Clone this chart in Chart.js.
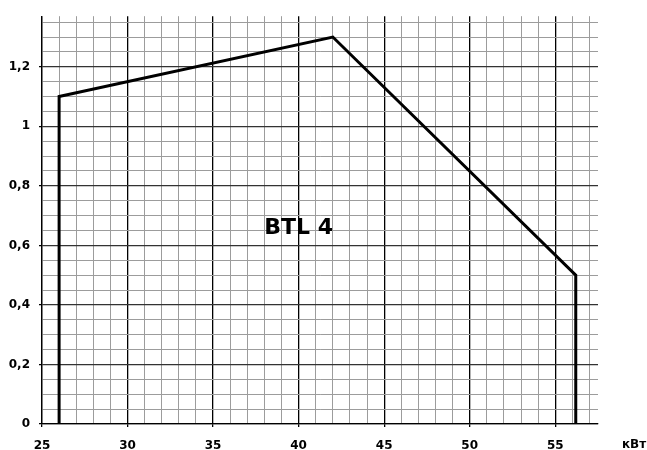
<!DOCTYPE html>
<html>
<head>
<meta charset="utf-8">
<script src="https://cdn.jsdelivr.net/npm/chart.js@4.4.1/dist/chart.umd.min.js"></script>
<style>
  body { margin: 0; background: #fff; }
  #wrap { width: 647px; height: 450px; }
</style>
</head>
<body>
<div id="wrap"><canvas id="chart"></canvas></div>
<script>
// working range outline, power (kW) vs. pressure
const powerKw = [26, 26, 42, 56.2, 56.2];
const pressure = [0, 1.1, 1.3, 0.5, 0];

const xTickValues = [25, 30, 35, 40, 45, 50, 55];
const xTickLabels = ['25', '30', '35', '40', '45', '50', '55'];
const yTickValues = [0, 0.2, 0.4, 0.6, 0.8, 1, 1.2];
const yTickLabels = ['0', '0,2', '0,4', '0,6', '0,8', '1', '1,2'];

const modelName = 'BTL 4';
const modelPos = { x: 40, y: 0.656 };
const unitLabel = 'кВт';

const FONT = '"DejaVu Sans", sans-serif';

const labelsPlugin = {
  id: 'labels',
  afterDraw(chart) {
    const { ctx, scales, chartArea } = chart;
    ctx.save();
    ctx.fillStyle = '#000';
    ctx.textAlign = 'center';
    ctx.textBaseline = 'middle';
    ctx.font = 'bold 22px ' + FONT;
    ctx.fillText(modelName, scales.x.getPixelForValue(modelPos.x), scales.y.getPixelForValue(modelPos.y));
    ctx.font = 'bold 12px ' + FONT;
    ctx.fillText(unitLabel, chartArea.right + 36, 445);
    ctx.restore();
  }
};

const isMajorX = v => Math.abs(v % 5) < 1e-6;
const isMajorY = v => Math.round(v * 20) % 4 === 0;

new Chart(document.getElementById('chart'), {
  type: 'scatter',
  data: {
    datasets: [{
      data: powerKw.map((x, i) => ({ x: x, y: pressure[i] })),
      showLine: true,
      borderColor: '#000',
      borderWidth: 3,
      pointRadius: 0,
      tension: 0
    }]
  },
  options: {
    responsive: true,
    maintainAspectRatio: false,
    animation: false,
    layout: { padding: { left: 0, right: 49, top: 12, bottom: 0 } },
    plugins: { legend: { display: false }, tooltip: { enabled: false } },
    scales: {
      x: {
        type: 'linear',
        min: 25,
        max: 57.5,
        afterBuildTicks(scale) {
          const t = [];
          for (let v = 25; v <= 57; v++) t.push({ value: v });
          scale.ticks = t;
        },
        afterFit(scale) { scale.height = 26; },
        ticks: {
          autoSkip: false,
          maxRotation: 0,
          padding: 12,
          color: '#000',
          font: { family: FONT, size: 12, weight: 'bold' },
          callback(v) {
            const i = xTickValues.indexOf(v);
            return i >= 0 ? xTickLabels[i] : '';
          }
        },
        grid: {
          color: c => isMajorX(c.tick.value) ? '#000' : '#9c9c9c',
          lineWidth: c => isMajorX(c.tick.value) ? 1.3 : 1,
          tickColor: c => isMajorX(c.tick.value) ? '#000' : 'rgba(0,0,0,0)',
          tickLength: 3
        },
        border: { color: '#000', width: 1.3 }
      },
      y: {
        min: 0,
        max: 1.37,
        afterBuildTicks(scale) {
          const t = [];
          for (let k = 0; k <= 27; k++) t.push({ value: k / 20 });
          scale.ticks = t;
        },
        afterFit(scale) { scale.width = 42; },
        ticks: {
          autoSkip: false,
          padding: 9,
          color: '#000',
          font: { family: FONT, size: 12, weight: 'bold' },
          callback(v) {
            if (!isMajorY(v)) return '';
            const i = yTickValues.findIndex(t => Math.abs(t - v) < 1e-6);
            return i >= 0 ? yTickLabels[i] : '';
          }
        },
        grid: {
          color: c => isMajorY(c.tick.value) ? '#333' : '#9c9c9c',
          lineWidth: c => isMajorY(c.tick.value) ? 1.3 : 1,
          tickColor: c => isMajorY(c.tick.value) ? '#000' : 'rgba(0,0,0,0)',
          tickLength: 3
        },
        border: { color: '#000', width: 1.3 }
      }
    }
  },
  plugins: [labelsPlugin]
});
</script>
</body>
</html>
